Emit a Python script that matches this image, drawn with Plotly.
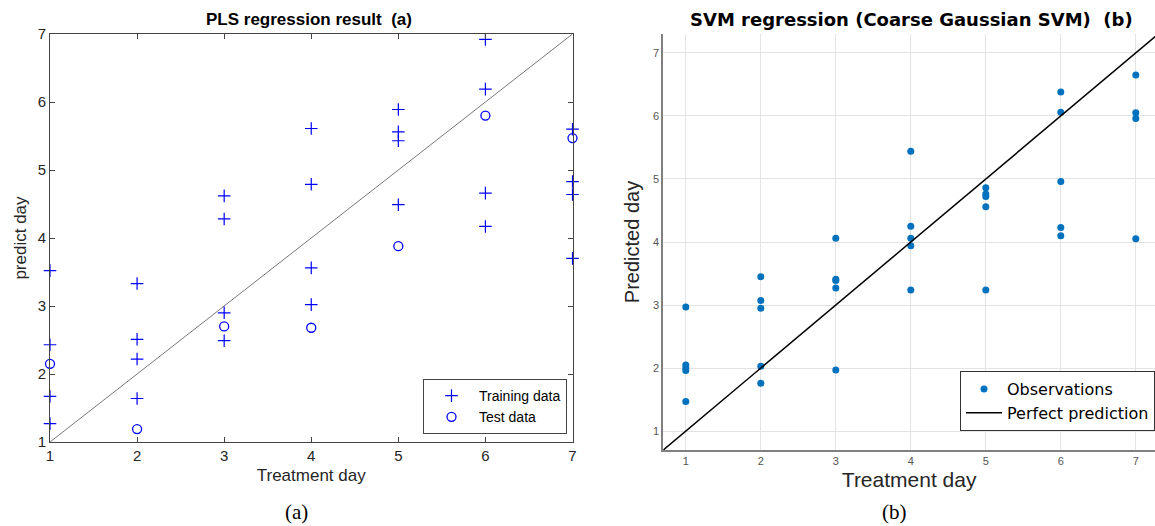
import plotly.graph_objects as go

W, H = 1155, 526

# ---------- Data ----------
# Panel (a): PLS regression
pls_train_x = [1, 1, 1, 1, 2, 2, 2, 2, 3, 3, 3, 3, 4, 4, 4, 4, 5, 5, 5, 5, 6, 6, 6, 6, 7, 7, 7, 7]
pls_train_y = [3.52, 2.43, 1.67, 1.27, 3.33, 2.51, 2.22, 1.64, 4.62, 4.28, 2.90, 2.49,
               5.61, 4.79, 3.56, 3.02, 5.89, 5.56, 5.43, 4.49, 6.92, 6.19, 4.66, 4.17,
               5.60, 4.83, 4.64, 3.70]
pls_test_x = [1, 2, 3, 4, 5, 6, 7]
pls_test_y = [2.15, 1.19, 2.70, 2.68, 3.88, 5.80, 5.47]

# Panel (b): SVM regression
svm_x = [1, 1, 1, 1, 1, 2, 2, 2, 2, 2, 3, 3, 3, 3, 3, 4, 4, 4, 4, 4,
         5, 5, 5, 5, 5, 6, 6, 6, 6, 6, 7, 7, 7, 7]
svm_y = [2.97, 2.05, 2.00, 1.96, 1.47, 3.45, 3.07, 2.95, 2.03, 1.76,
         4.06, 3.41, 3.39, 3.27, 1.97, 5.44, 4.25, 4.06, 3.94, 3.24,
         4.86, 4.76, 4.72, 4.56, 3.24, 6.38, 6.06, 4.96, 4.23, 4.10,
         6.65, 6.05, 5.96, 4.05]
perfect = [0.7, 7.3]
ticks = [1, 2, 3, 4, 5, 6, 7]

SANS = "Liberation Sans, Arial"
WIDE = "DejaVu Sans"

fig = go.Figure()

# ---------- Panel (a) ----------
fig.add_trace(go.Scatter(x=[1, 7], y=[1, 7], mode="lines", line=dict(color="#555555", width=0.8),
                         showlegend=False, xaxis="x", yaxis="y", hoverinfo="skip"))
fig.add_trace(go.Scatter(x=pls_train_x, y=pls_train_y, mode="markers", name="Training data",
                         marker=dict(symbol="cross-thin-open", size=9, color="#0000FF",
                                     line=dict(color="#0000FF", width=1.2)),
                         xaxis="x", yaxis="y", legend="legend", cliponaxis=False))
fig.add_trace(go.Scatter(x=pls_test_x, y=pls_test_y, mode="markers", name="Test data",
                         marker=dict(symbol="circle-open", size=9, color="#0000FF",
                                     line=dict(color="#0000FF", width=1.3)),
                         xaxis="x", yaxis="y", legend="legend", cliponaxis=False))

# ---------- Panel (b) ----------
fig.add_trace(go.Scatter(x=svm_x, y=svm_y, mode="markers", name="Observations",
                         marker=dict(symbol="circle", size=7, color="#0072BD"),
                         xaxis="x2", yaxis="y2", legend="legend2"))
fig.add_trace(go.Scatter(x=perfect, y=perfect, mode="lines", name="Perfect prediction",
                         line=dict(color="#000000", width=1.5),
                         xaxis="x2", yaxis="y2", legend="legend2"))

ax_a = dict(showgrid=False, zeroline=False, showline=True, linecolor="#444444", linewidth=1,
            mirror="ticks", ticks="inside", ticklen=5, tickcolor="#444444", automargin=False,
            tickfont=dict(family=SANS, size=15, color="#262626"),
            tickvals=ticks)
ax_b = dict(showgrid=True, gridcolor="#E3E3E3", gridwidth=1, zeroline=False, showline=True,
            linecolor="#808080", linewidth=2, mirror=False, ticks="", automargin=False,
            tickfont=dict(family=SANS, size=11, color="#555555"),
            tickvals=ticks)

fig.update_layout(
    width=W, height=H,
    margin=dict(l=0, r=0, t=0, b=0, autoexpand=False),
    paper_bgcolor="white", plot_bgcolor="white",
    showlegend=True,
    xaxis=dict(ax_a, domain=[50 / W, 572.5 / W], range=[1, 7], anchor="y",
               title=dict(text="Treatment day", standoff=6,
                          font=dict(family=SANS, size=17, color="#262626"))),
    yaxis=dict(ax_a, domain=[1 - 442 / H, 1 - 34 / H], range=[1, 7], anchor="x",
               title=dict(text="predict day", standoff=6,
                          font=dict(family=SANS, size=17, color="#262626"))),
    xaxis2=dict(ax_b, domain=[663.3 / W, 1.0], range=[0.7, 7.256], anchor="y2",
                title=dict(text="Treatment day", standoff=6,
                           font=dict(family=SANS, size=21, color="#262626"))),
    yaxis2=dict(ax_b, domain=[1 - 450 / H, 1 - 34 / H], range=[0.7, 7.3], anchor="x2",
                title=dict(text="Predicted day", standoff=8,
                           font=dict(family=SANS, size=20, color="#262626"))),
    legend=dict(x=567 / W, y=1 - 434 / H, xanchor="right", yanchor="bottom",
                bgcolor="white", bordercolor="#444444", borderwidth=1,
                font=dict(family=SANS, size=14, color="#000000"),
                tracegroupgap=0, itemwidth=45),
    legend2=dict(x=1.0, y=1 - 431 / H, xanchor="right", yanchor="bottom",
                 bgcolor="white", bordercolor="#333333", borderwidth=1,
                 font=dict(family=WIDE, size=16, color="#000000"),
                 tracegroupgap=0, itemwidth=36),
    annotations=[
        dict(text="<b>PLS regression result  (a)</b>", x=309 / W, y=1 - 19 / H, xref="paper", yref="paper",
             xanchor="center", yanchor="middle",
             showarrow=False, font=dict(family=SANS, size=17, color="#000000")),
        dict(text="<b>SVM regression (Coarse Gaussian SVM)  (b)</b>", x=911 / W, y=1 - 19 / H,
             xref="paper", yref="paper", showarrow=False, xanchor="center", yanchor="middle",
             font=dict(family=WIDE, size=18, color="#000000")),
        dict(text="(a)", x=296 / W, y=1 - 512 / H, xref="paper", yref="paper", showarrow=False,
             xanchor="center", yanchor="middle",
             font=dict(family="Liberation Serif, Times New Roman", size=21, color="#000000")),
        dict(text="(b)", x=894 / W, y=1 - 512 / H, xref="paper", yref="paper", showarrow=False,
             xanchor="center", yanchor="middle",
             font=dict(family="Liberation Serif, Times New Roman", size=21, color="#000000")),
    ],
)

fig.write_html("out.html")
